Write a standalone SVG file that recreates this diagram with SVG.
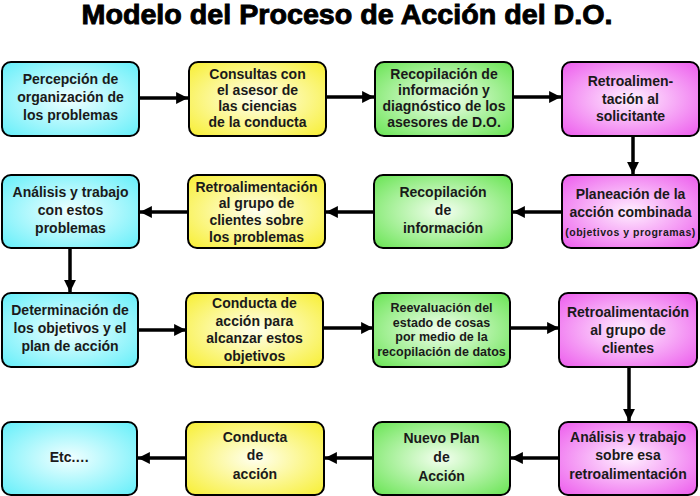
<svg xmlns="http://www.w3.org/2000/svg" width="700" height="496" viewBox="0 0 700 496">
<style>
.box{stroke:#000;stroke-width:2}
.t{font-family:"Liberation Sans",Arial,sans-serif;font-weight:bold;font-size:14px;fill:#1a1a1a;text-anchor:middle}
.s{font-size:12.5px}
.xs{font-size:10.5px;letter-spacing:0.5px}
.c{fill:none;stroke:#000;stroke-width:3.5}
</style>
<defs>
<radialGradient id="gc" cx="50%" cy="50%" r="65%"><stop offset="0" stop-color="#f2ffff"/><stop offset="1" stop-color="#6ef0fa"/></radialGradient>
<radialGradient id="gy" cx="50%" cy="50%" r="65%"><stop offset="0" stop-color="#fffff0"/><stop offset="1" stop-color="#f8f040"/></radialGradient>
<radialGradient id="gg" cx="50%" cy="50%" r="65%"><stop offset="0" stop-color="#f4fff0"/><stop offset="1" stop-color="#72e65e"/></radialGradient>
<radialGradient id="gm" cx="50%" cy="50%" r="65%"><stop offset="0" stop-color="#fff0ff"/><stop offset="1" stop-color="#ee66ee"/></radialGradient>
<marker id="ah" viewBox="0 0 10 10" refX="10" refY="5" markerWidth="4" markerHeight="3.4" orient="auto" markerUnits="strokeWidth"><path d="M0,0 L10,5 L0,10 z" fill="#000"/></marker>
</defs>
<text x="347" y="24" font-family="'Liberation Sans',Arial,sans-serif" font-weight="bold" font-size="28" text-anchor="middle" textLength="531" lengthAdjust="spacingAndGlyphs" fill="#000" stroke="#000" stroke-width="0.9">Modelo del Proceso de Acción del D.O.</text>

<g id="connectors">
<line class="c" x1="140" y1="98" x2="188" y2="98" marker-end="url(#ah)"/>
<line class="c" x1="327" y1="97" x2="374" y2="97" marker-end="url(#ah)"/>
<line class="c" x1="514" y1="97" x2="561" y2="97" marker-end="url(#ah)"/>
<line class="c" x1="633" y1="137" x2="633" y2="174" marker-end="url(#ah)"/>
<line class="c" x1="562" y1="212" x2="513" y2="212" marker-end="url(#ah)"/>
<line class="c" x1="374" y1="212" x2="326" y2="212" marker-end="url(#ah)"/>
<line class="c" x1="188" y1="212" x2="140" y2="212" marker-end="url(#ah)"/>
<line class="c" x1="70" y1="249" x2="70" y2="292" marker-end="url(#ah)"/>
<line class="c" x1="139" y1="330" x2="186" y2="330" marker-end="url(#ah)"/>
<line class="c" x1="324" y1="328" x2="373" y2="328" marker-end="url(#ah)"/>
<line class="c" x1="511" y1="328" x2="559" y2="328" marker-end="url(#ah)"/>
<line class="c" x1="629" y1="368" x2="629" y2="421" marker-end="url(#ah)"/>
<line class="c" x1="559" y1="458" x2="511" y2="458" marker-end="url(#ah)"/>
<line class="c" x1="373" y1="458" x2="325" y2="458" marker-end="url(#ah)"/>
<line class="c" x1="186" y1="458" x2="138" y2="458" marker-end="url(#ah)"/>
</g>

<g id="n1"><rect class="box" x="2" y="62" width="137" height="74" rx="9" fill="url(#gc)"/>
<text class="t"><tspan x="70.5" y="84">Percepción de</tspan><tspan x="70.5" y="102">organización de</tspan><tspan x="70.5" y="120">los problemas</tspan></text></g>
<g id="n2"><rect class="box" x="189" y="62" width="137" height="74" rx="9" fill="url(#gy)"/>
<text class="t"><tspan x="257.5" y="79">Consultas con</tspan><tspan x="257.5" y="95">el asesor de</tspan><tspan x="257.5" y="111">las ciencias</tspan><tspan x="257.5" y="127">de la conducta</tspan></text></g>
<g id="n3"><rect class="box" x="375" y="62" width="138" height="74" rx="9" fill="url(#gg)"/>
<text class="t"><tspan x="444" y="79">Recopilación de</tspan><tspan x="444" y="95">información y</tspan><tspan x="444" y="111">diagnóstico de los</tspan><tspan x="444" y="127">asesores de D.O.</tspan></text></g>
<g id="n4"><rect class="box" x="562" y="62" width="137" height="74" rx="9" fill="url(#gm)"/>
<text class="t"><tspan x="630.5" y="86">Retroalimen-</tspan><tspan x="630.5" y="104">tación al</tspan><tspan x="630.5" y="121">solicitante</tspan></text></g>

<g id="n5"><rect class="box" x="562" y="175" width="137" height="73" rx="9" fill="url(#gm)"/>
<text class="t"><tspan x="630.5" y="199">Planeación de la</tspan><tspan x="630.5" y="217">acción combinada</tspan><tspan class="xs" x="630.5" y="236">(objetivos y programas)</tspan></text></g>
<g id="n6"><rect class="box" x="374" y="175" width="138" height="73" rx="9" fill="url(#gg)"/>
<text class="t"><tspan x="443" y="197">Recopilación</tspan><tspan x="443" y="215">de</tspan><tspan x="443" y="233">información</tspan></text></g>
<g id="n7"><rect class="box" x="188" y="175" width="137" height="73" rx="9" fill="url(#gy)"/>
<text class="t"><tspan x="256.5" y="192">Retroalimentación</tspan><tspan x="256.5" y="208">al grupo de</tspan><tspan x="256.5" y="225">clientes sobre</tspan><tspan x="256.5" y="242">los problemas</tspan></text></g>
<g id="n8"><rect class="box" x="2" y="175" width="137" height="73" rx="9" fill="url(#gc)"/>
<text class="t"><tspan x="70.5" y="197">Análisis y trabajo</tspan><tspan x="70.5" y="215">con estos</tspan><tspan x="70.5" y="233">problemas</tspan></text></g>

<g id="n9"><rect class="box" x="2" y="293" width="136" height="74" rx="9" fill="url(#gc)"/>
<text class="t"><tspan x="70" y="315">Determinación de</tspan><tspan x="70" y="333">los objetivos y el</tspan><tspan x="70" y="351">plan de acción</tspan></text></g>
<g id="n10"><rect class="box" x="186" y="293" width="137" height="74" rx="9" fill="url(#gy)"/>
<text class="t"><tspan x="254.5" y="308">Conducta de</tspan><tspan x="254.5" y="326">acción para</tspan><tspan x="254.5" y="343">alcanzar estos</tspan><tspan x="254.5" y="361">objetivos</tspan></text></g>
<g id="n11"><rect class="box" x="373" y="293" width="137" height="74" rx="9" fill="url(#gg)"/>
<text class="t s"><tspan x="441.5" y="312">Reevaluación del</tspan><tspan x="441.5" y="327">estado de cosas</tspan><tspan x="441.5" y="341">por medio de la</tspan><tspan x="441.5" y="356">recopilación de datos</tspan></text></g>
<g id="n12"><rect class="box" x="559" y="293" width="138" height="74" rx="9" fill="url(#gm)"/>
<text class="t"><tspan x="628" y="317">Retroalimentación</tspan><tspan x="628" y="335">al grupo de</tspan><tspan x="628" y="353">clientes</tspan></text></g>

<g id="n13"><rect class="box" x="559" y="422" width="138" height="73" rx="9" fill="url(#gm)"/>
<text class="t"><tspan x="628" y="442">Análisis y trabajo</tspan><tspan x="628" y="460">sobre esa</tspan><tspan x="628" y="479">retroalimentación</tspan></text></g>
<g id="n14"><rect class="box" x="373" y="422" width="137" height="73" rx="9" fill="url(#gg)"/>
<text class="t"><tspan x="441.5" y="443">Nuevo Plan</tspan><tspan x="441.5" y="462">de</tspan><tspan x="441.5" y="481">Acción</tspan></text></g>
<g id="n15"><rect class="box" x="186" y="422" width="138" height="73" rx="9" fill="url(#gy)"/>
<text class="t"><tspan x="255" y="442">Conducta</tspan><tspan x="255" y="460">de</tspan><tspan x="255" y="479">acción</tspan></text></g>
<g id="n16"><rect class="box" x="2" y="422" width="135" height="73" rx="9" fill="url(#gc)"/>
<text class="t"><tspan x="69.5" y="462">Etc.…</tspan></text></g>
</svg>
